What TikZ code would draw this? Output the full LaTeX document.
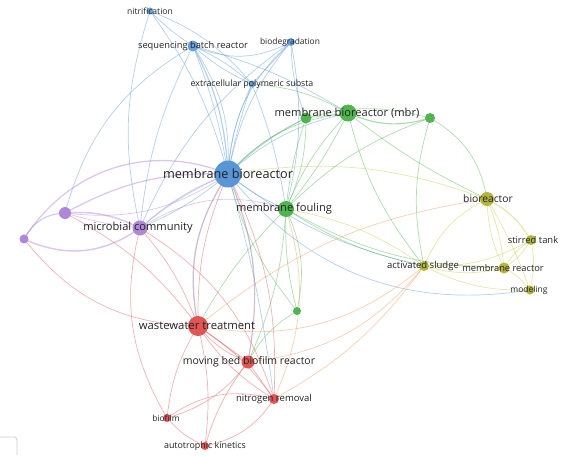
\documentclass[tikz,border=0pt]{standalone}
\usepackage{fontspec}
\setmainfont{Open Sans}
\begin{document}
\begin{tikzpicture}[x=1pt,y=1pt,
  e/.style={line width=0.7pt, opacity=0.45},
  eb/.style={e, draw=cb},
  eg/.style={e, draw=cg},
  ey/.style={e, draw=cy},
  er/.style={e, draw=cr},
  eo/.style={e, draw=co},
  ep/.style={e, draw=cp},
  em/.style={e, draw=cm},
  dot/.style={circle, inner sep=0pt, draw=none},
  lab/.style={text=tx, inner sep=0pt, anchor=center},
]
\definecolor{cb}{RGB}{88,150,214}
\definecolor{cg}{RGB}{80,180,80}
\definecolor{cy}{RGB}{200,200,70}
\definecolor{cr}{RGB}{225,85,85}
\definecolor{co}{RGB}{240,150,90}
\definecolor{cp}{RGB}{175,135,215}
\definecolor{cm}{RGB}{150,110,150}
\definecolor{tx}{RGB}{35,35,35}
\useasboundingbox (0,0) rectangle (578,-455);
% positions
\coordinate (nit) at (150,-11);
\coordinate (sbr) at (193,-46);
\coordinate (bio) at (291,-42);
\coordinate (eps) at (252,-84);
\coordinate (mb) at (228,-174);
\coordinate (g1) at (306,-118);
\coordinate (mbr) at (348,-113);
\coordinate (g2) at (430,-118);
\coordinate (mf) at (286,-209);
\coordinate (mc) at (140,-228);
\coordinate (p1) at (65,-213);
\coordinate (p2) at (24,-239);
\coordinate (br) at (487,-199);
\coordinate (st) at (531,-240);
\coordinate (as) at (424,-266);
\coordinate (mr) at (504,-268);
\coordinate (mo) at (530,-290);
\coordinate (g3) at (297,-311);
\coordinate (ww) at (198,-326);
\coordinate (mbbr) at (248,-362);
\coordinate (nr) at (274,-399);
\coordinate (bf) at (167,-418);
\coordinate (ak) at (205,-446);
% blue edges
\draw[eb, line width=1.2pt] (sbr) to[bend left=12] (mb);
\draw[eb] (sbr) to[bend left=6] (mb);
\draw[eb] (sbr) to[bend left=18] (mb);
\draw[eb] (nit) to[bend left=10] (mb);
\draw[eb] (nit) to[bend right=6] (sbr);
\draw[eb] (nit) to[bend left=14] (eps);
\draw[eb] (bio) to[bend right=22] (mb);
\draw[eb] (bio) to[bend right=14] (mb);
\draw[eb] (sbr) to[bend right=25] (bio);
\draw[eb] (sbr) to[bend left=8] (eps);
\draw[eb] (sbr) to[bend right=8] (eps);
\draw[eb] (bio) to (eps);
\draw[eb] (bio) to[bend left=12] (mf);
\draw[eb] (eps) to[bend right=10] (mb);
\draw[eb] (eps) to[bend right=4] (mb);
\draw[eb] (sbr) to[bend left=8] (mbr);
\draw[eb] (sbr) to[bend right=10] (mc);
\draw[eb] (nit) to[bend right=15] (mc);
\draw[eb] (sbr) to[bend right=22] (p1);
\draw[eb] (bio) to[bend right=15] (mc);
\draw[eb] (mb) to[bend left=8] (mc);
\draw[eb] (mb) to[bend right=8] (mc);
\draw[eb] (mb) to[bend left=14] (mbr);
\draw[eb] (mb) to[bend left=10] (g1);
\draw[eb] (mb) to[bend right=8] (mf);
\draw[eb] (mb) to[bend right=30] (mo);
\draw[eb] (mb) to[bend right=12] (as);
\draw[eb] (mb) to[bend left=4] (nr);
\draw[eb] (bio) to[bend right=10] (g1);
\draw[eb] (eps) to[bend left=6] (mf);
% purple edges
\draw[ep, line width=1.3pt] (p2) to[bend left=40] (mb);
\draw[ep, line width=1.3pt] (p1) to[bend left=15] (mb);
\draw[ep, line width=1.5pt] (p1) to[bend left=15] (mc);
\draw[ep, line width=1.5pt] (p2) to[bend right=30] (mc);
\draw[ep, line width=1.2pt] (p2) to[bend left=30] (p1);
\draw[ep] (p1) to[bend right=5] (mc);
\draw[ep] (mc) to[bend left=10] (mb);
\draw[ep] (p1) to[bend right=20] (mb);
\draw[ep] (mc) to[bend left=25] (mf);
\draw[em, line width=1.3pt] (mb) to[bend right=22] (ww);
\draw[em, line width=1.2pt] (mb) to[bend left=16] (mbbr);
% green edges
\draw[eg, line width=1.2pt] (mbr) to[bend right=20] (g2);
\draw[eg] (g1) to[bend left=15] (g2);
\draw[eg] (g1) to (mbr);
\draw[eg] (eps) to[bend left=12] (mbr);
\draw[eg] (mbr) to[bend left=6] (mf);
\draw[eg] (mbr) to[bend right=10] (mf);
\draw[eg] (g1) to[bend right=6] (mf);
\draw[eg] (g1) to[bend left=12] (mf);
\draw[eg] (g2) to[bend right=12] (mf);
\draw[eg] (g2) to[bend left=25] (br);
\draw[eg] (mbr) to[bend right=6] (br);
\draw[eg] (mbr) to[bend right=12] (as);
\draw[eg] (mf) to[bend left=18] (g3);
\draw[eg] (mf) to[bend right=8] (g3);
\draw[eg] (mf) to[bend right=10] (as);
\draw[eg] (mf) to[bend right=14] (mr);
\draw[eg] (g1) to[bend right=8] (mb);
\draw[eg] (mbr) to[bend right=20] (mb);
\draw[eg] (mf) to[bend right=8] (ww);
\draw[eg] (mf) to[bend left=10] (mbbr);
\draw[eg] (g3) to[bend right=15] (mbbr);
\draw[eg] (g3) to[bend left=12] (mb);
\draw[eg] (g2) to[bend right=14] (as);
% yellow edges
\draw[ey, line width=1.1pt] (br) to[bend left=15] (st);
\draw[ey] (br) to[bend left=8] (mr);
\draw[ey] (br) to[bend right=12] (mr);
\draw[ey] (br) to[bend left=5] (mo);
\draw[ey] (br) to[bend right=20] (as);
\draw[ey] (st) to[bend right=12] (mr);
\draw[ey] (st) to[bend left=12] (mr);
\draw[ey] (st) to[bend left=12] (mo);
\draw[ey] (st) to[bend left=15] (as);
\draw[ey] (mr) to[bend left=14] (as);
\draw[ey] (as) to[bend left=4] (mr);
\draw[ey] (mr) to[bend left=12] (mo);
\draw[ey] (as) to[bend right=14] (mo);
\draw[ey] (as) to[bend right=12] (mf);
\draw[ey] (br) to[bend right=14] (mb);
% red/orange edges
\draw[eo] (ww) to[bend right=25] (as);
\draw[eo] (ww) to[bend left=15] (br);
\draw[eo] (nr) to[bend right=12] (as);
\draw[eo] (mbbr) to[bend right=22] (as);
\draw[eo] (mf) to[bend left=20] (nr);
\draw[er, line width=1.1pt] (ww) to (mbbr);
\draw[er] (ww) to[bend right=14] (mbbr);
\draw[er] (ww) to[bend left=10] (nr);
\draw[er] (ww) to[bend right=12] (nr);
\draw[er] (ww) to[bend right=12] (bf);
\draw[er] (ww) to[bend left=10] (ak);
\draw[er] (mbbr) to (nr);
\draw[er] (mbbr) to[bend left=18] (bf);
\draw[er] (mbbr) to[bend right=10] (ak);
\draw[er] (bf) to[bend left=25] (nr);
\draw[er] (ak) to[bend right=22] (nr);
\draw[er] (bf) to[bend right=12] (ak);
\draw[er] (mc) to[bend left=10] (ww);
\draw[er] (mc) to[bend right=22] (bf);
\draw[er] (p2) to[bend right=25] (ww);
\draw[er] (p1) to[bend left=12] (ww);
\draw[er] (nr) to[bend right=14] (mb);
\draw[er] (ww) to[bend left=12] (mb);
\draw[er] (mc) to[bend left=20] (nr);
% bottom-left frame artifact
\draw[black!20, line width=0.8pt] (0,-437) -- (14,-437) arc[start angle=90, end angle=0, radius=3] -- (17,-455);
% nodes
\node[dot, fill=cb!90, minimum size=7pt] (nNit) at (nit) {};
\node[dot, fill=cb!90, minimum size=11pt] (nSbr) at (sbr) {};
\node[dot, fill=cb!90, minimum size=8pt] (nBio) at (bio) {};
\node[dot, fill=cb!90, minimum size=7pt] (nEps) at (eps) {};
\node[dot, fill=cb, minimum size=27pt] (nMb) at (mb) {};
\node[dot, fill=cg, minimum size=11pt] (nG1) at (g1) {};
\node[dot, fill=cg, minimum size=17pt] (nMbr) at (mbr) {};
\node[dot, fill=cg, minimum size=10pt] (nG2) at (g2) {};
\node[dot, fill=cg, minimum size=16pt] (nMf) at (mf) {};
\node[dot, fill=cp, minimum size=15pt] (nMc) at (mc) {};
\node[dot, fill=cp, minimum size=12pt] (nP1) at (p1) {};
\node[dot, fill=cp, minimum size=9pt] (nP2) at (p2) {};
\node[dot, fill=cy!90!black, minimum size=14pt] (nBr) at (br) {};
\node[dot, fill=cy!90!black, minimum size=10pt] (nSt) at (st) {};
\node[dot, fill=cy!90!black, minimum size=10pt] (nAs) at (as) {};
\node[dot, fill=cy!90!black, minimum size=11pt] (nMr) at (mr) {};
\node[dot, fill=cy!90!black, minimum size=9pt] (nMo) at (mo) {};
\node[dot, fill=cg, minimum size=8pt] (nG3) at (g3) {};
\node[dot, fill=cr, minimum size=20pt] (nWw) at (ww) {};
\node[dot, fill=cr, minimum size=13pt] (nMbbr) at (mbbr) {};
\node[dot, fill=cr, minimum size=10pt] (nNr) at (nr) {};
\node[dot, fill=cr, minimum size=8pt] (nBf) at (bf) {};
\node[dot, fill=cr, minimum size=8pt] (nAk) at (ak) {};
% labels
\node[lab, font=\fontsize{8.6}{10}\selectfont] (tNit) at (150,-11) {nitrification};
\node[lab, font=\fontsize{9.3}{11}\selectfont] (tSbr) at (193,-46) {sequencing batch reactor};
\node[lab, font=\fontsize{8.4}{10}\selectfont] (tBio) at (290,-42) {biodegradation};
\node[lab, font=\fontsize{8.8}{10}\selectfont] (tEps) at (252,-84) {extracellular polymeric substa};
\node[lab, font=\fontsize{12.7}{15}\selectfont] (tMb) at (228,-174) {membrane bioreactor};
\node[lab, font=\fontsize{11.1}{13}\selectfont] (tMbr) at (347,-113) {membrane bioreactor (mbr)};
\node[lab, font=\fontsize{11.1}{13}\selectfont] (tMf) at (284,-209) {membrane fouling};
\node[lab, font=\fontsize{11.1}{13}\selectfont] (tMc) at (138,-228) {microbial community};
\node[lab, font=\fontsize{10.3}{12}\selectfont] (tBr) at (488,-199) {bioreactor};
\node[lab, font=\fontsize{9.4}{11}\selectfont] (tSt) at (533,-240) {stirred tank};
\node[lab, font=\fontsize{9.5}{11}\selectfont] (tAs) at (423,-266) {activated sludge};
\node[lab, font=\fontsize{9.3}{11}\selectfont] (tMr) at (503,-268) {membrane reactor};
\node[lab, font=\fontsize{8.5}{10}\selectfont] (tMo) at (529,-290) {modeling};
\node[lab, font=\fontsize{11.3}{13}\selectfont] (tWw) at (197,-326) {wastewater treatment};
\node[lab, font=\fontsize{10.5}{12}\selectfont] (tMbbr) at (249,-362) {moving bed biofilm reactor};
\node[lab, font=\fontsize{9.5}{11}\selectfont] (tNr) at (274,-399) {nitrogen removal};
\node[lab, font=\fontsize{8.4}{10}\selectfont] (tBf) at (166,-418) {biofilm};
\node[lab, font=\fontsize{8.9}{10}\selectfont] (tAk) at (205,-446) {autotrophic kinetics};
\end{tikzpicture}
\end{document}
